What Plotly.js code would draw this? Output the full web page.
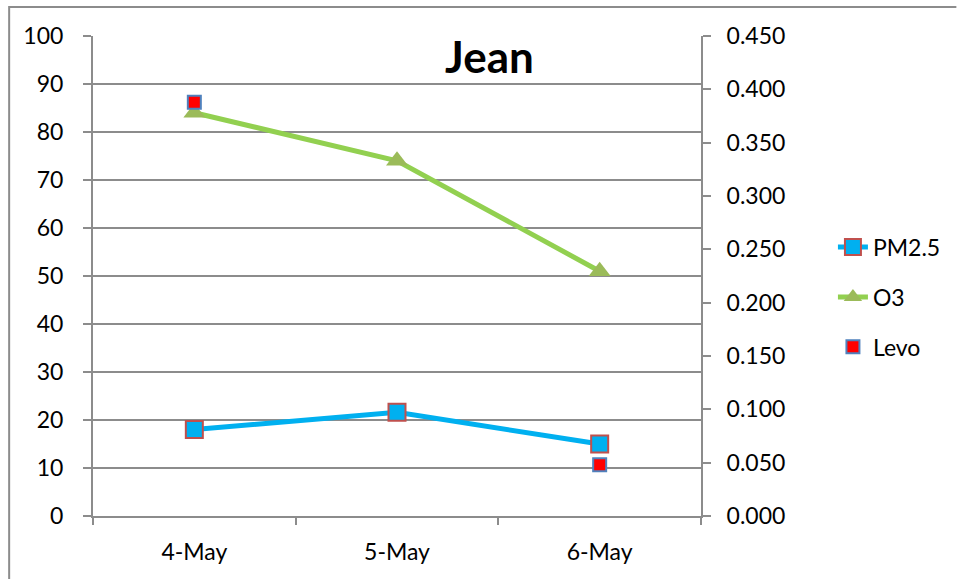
<!DOCTYPE html>
<html>
<head>
<meta charset="utf-8">
<script src="https://cdn.plot.ly/plotly-3.0.1.min.js"></script>
<style>html,body{margin:0;padding:0;background:#fff;}#chart{width:957px;height:579px;}</style>
</head>
<body>
<div id="chart"></div>
<script>
const categories = ["4-May", "5-May", "6-May"];
const pm25 = [18, 21.6, 15];
const o3 = [84, 74, 51];
const levo = [0.388, null, 0.048];
const leftTicks = [0, 10, 20, 30, 40, 50, 60, 70, 80, 90, 100];
const rightTicks = [0, 0.05, 0.1, 0.15, 0.2, 0.25, 0.3, 0.35, 0.4, 0.45];

const FONT = "Lato, 'Open Sans', sans-serif";
const GRID = "#8c8c8c";
const FS = 23;

const traces = [
  {
    x: categories, y: pm25, name: "PM2.5", type: "scatter", mode: "lines+markers",
    line: {color: "#00B0F0", width: 5},
    marker: {symbol: "square", size: 17, color: "#00B0F0", line: {color: "#C0504D", width: 2}},
    legendgroup: "a"
  },
  {
    x: categories, y: o3, name: "O3", type: "scatter", mode: "lines+markers",
    line: {color: "#92D050", width: 5},
    marker: {symbol: "triangle-up", size: 19, color: "#9BBB59", line: {width: 0}},
    legendgroup: "b"
  },
  {
    x: categories, y: levo, name: "Levo", type: "scatter", mode: "markers", yaxis: "y2",
    marker: {symbol: "square", size: 13, color: "#FF0000", line: {color: "#4F81BD", width: 2}},
    legendgroup: "c"
  }
];

const layout = {
  width: 957, height: 579,
  margin: {l: 93, r: 255, t: 36, b: 63, pad: 0},
  paper_bgcolor: "#ffffff", plot_bgcolor: "#ffffff",
  font: {family: FONT, size: FS, color: "#000"},
  title: {text: "<b>Jean</b>", font: {family: FONT, size: 44, color: "#000"}, x: 0.652, xanchor: "center", y: 0.9, yanchor: "middle", xref: "paper", yref: "container"},
  showlegend: true,
  legend: {x: 1.215, xanchor: "left", y: 0.605, yanchor: "top", font: {family: FONT, size: FS, color: "#000"}, traceorder: "grouped", tracegroupgap: 17, bgcolor: "rgba(0,0,0,0)"},
  xaxis: {
    type: "category", range: [-0.5, 2.5], showgrid: false, showline: true, linecolor: GRID, linewidth: 2,
    ticks: "outside", tickson: "boundaries", ticklen: 7, tickcolor: GRID, tickwidth: 2,
    tickfont: {family: FONT, size: FS}, zeroline: false, ticklabelstandoff: 14
  },
  yaxis: {
    range: [0, 100], tickvals: leftTicks, showgrid: true, gridcolor: GRID, gridwidth: 2,
    showline: true, linecolor: GRID, linewidth: 2, ticks: "outside", ticklen: 8, tickcolor: GRID, tickwidth: 2,
    tickfont: {family: FONT, size: FS}, zeroline: false, ticklabelstandoff: 15
  },
  yaxis2: {
    range: [0, 0.45], tickvals: rightTicks, tickformat: ".3f", overlaying: "y", side: "right",
    showgrid: false, showline: true, linecolor: GRID, linewidth: 2, ticks: "outside", ticklen: 8, tickcolor: GRID, tickwidth: 2,
    tickfont: {family: FONT, size: FS}, zeroline: false, ticklabelstandoff: 11
  },
  shapes: [
    {type: "path", xref: "paper", yref: "paper",
     path: "M -0.1379 -0.14 L -0.1379 1.0604 L 1.42 1.0604",
     line: {color: GRID, width: 2}}
  ]
};

Plotly.newPlot("chart", traces, layout, {displayModeBar: false, staticPlot: true});
</script>
</body>
</html>
